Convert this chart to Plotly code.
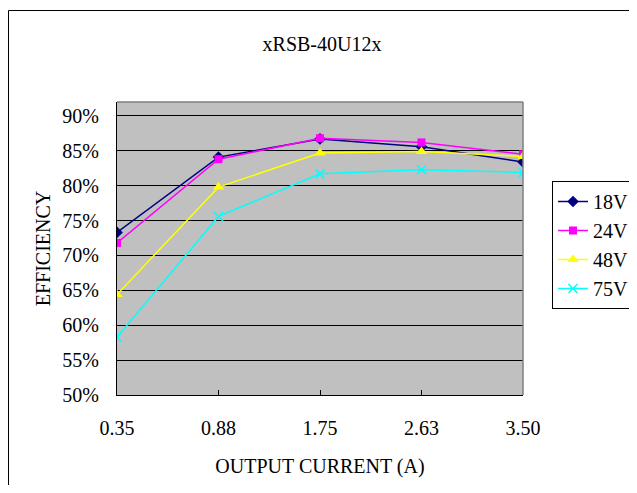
import plotly.graph_objects as go

currents = ["0.35", "0.88", "1.75", "2.63", "3.50"]
eff_18v = [73.3, 84.1, 86.7, 85.6, 83.4]
eff_24v = [71.8, 83.8, 86.8, 86.2, 84.5]
eff_48v = [64.4, 79.8, 84.7, 84.9, 84.2]
eff_75v = [58.3, 75.6, 81.7, 82.3, 81.9]
series_names = ["18V", "24V", "48V", "75V"]
y_ticks = [50, 55, 60, 65, 70, 75, 80, 85, 90]
y_tick_text = ["50%", "55%", "60%", "65%", "70%", "75%", "80%", "85%", "90%"]

W, H = 629, 477
OFF = 8  # page body margin


def fx(sx):
    return sx - OFF


def fy(sy):
    return sy - OFF


L, R, T, B = fx(117), fx(523), fy(102), fy(395)
pw, ph = R - L, B - T


def px(sx):
    return (fx(sx) - L) / pw


def py(sy):
    return (B - fy(sy)) / ph


font_family = "Liberation Serif, Times New Roman, serif"

styles = [
    dict(color="#000080", symbol="diamond", size=9, line=dict(width=0)),
    dict(color="#FF00FF", symbol="square", size=8, line=dict(width=0)),
    dict(color="#FFFF00", symbol="triangle-up", size=10, line=dict(width=0)),
    dict(color="#00FFFF", symbol="x-thin-open", size=9, line=dict(width=1.5, color="#00FFFF")),
]

fig = go.Figure()
for name, vals, st in zip(series_names, [eff_18v, eff_24v, eff_48v, eff_75v], styles):
    fig.add_trace(go.Scatter(
        x=currents, y=vals, name=name, mode="lines+markers",
        line=dict(color=st["color"], width=1.5),
        marker=dict(symbol=st["symbol"], size=st["size"], color=st["color"], line=st["line"]),
    ))

fig.update_layout(
    width=W, height=H,
    margin=dict(l=L, r=W - R, t=T, b=H - B, pad=0, autoexpand=False),
    paper_bgcolor="white",
    plot_bgcolor="#C0C0C0",
    font=dict(family=font_family, size=20, color="black"),
    title=dict(text="xRSB-40U12x", x=fx(322) / W, xanchor="center",
               y=1 - fy(44) / H, yanchor="middle", font=dict(size=20)),
    showlegend=True,
    legend=dict(x=px(552), y=py(181), xanchor="left", yanchor="top",
                bgcolor="white", bordercolor="black", borderwidth=1,
                font=dict(size=20), tracegroupgap=0, itemwidth=30),
)

fig.update_xaxes(
    type="category", range=[0, 4], showgrid=False,
    showline=True, linecolor="black", linewidth=1, mirror=False,
    ticks="inside", ticklen=5, tickcolor="black",
    ticklabelstandoff=15,
    title=dict(text="OUTPUT CURRENT (A)", standoff=20, font=dict(size=20)),
    zeroline=False,
)
fig.update_yaxes(
    range=[50, 92], tickvals=y_ticks, ticktext=y_tick_text,
    showgrid=True, gridcolor="black", gridwidth=1,
    showline=True, linecolor="black", linewidth=1,
    ticks="", ticklabelstandoff=13,
    title=dict(text="EFFICIENCY", standoff=6, font=dict(size=20)),
    zeroline=False,
)

# plot-area border top/right (gray)
fig.add_shape(type="line", xref="paper", yref="paper", x0=0, x1=1, y0=1, y1=1,
              line=dict(color="#808080", width=1.5))
fig.add_shape(type="line", xref="paper", yref="paper", x0=1, x1=1, y0=0, y1=1,
              line=dict(color="#808080", width=1.5))
# outer chart frame
fig.add_shape(type="rect", xref="paper", yref="paper",
              x0=px(8.5), x1=px(W + 40), y0=py(H + 40), y1=py(10.5),
              line=dict(color="black", width=1), fillcolor="rgba(0,0,0,0)", layer="below")

fig.write_html("out.html")
